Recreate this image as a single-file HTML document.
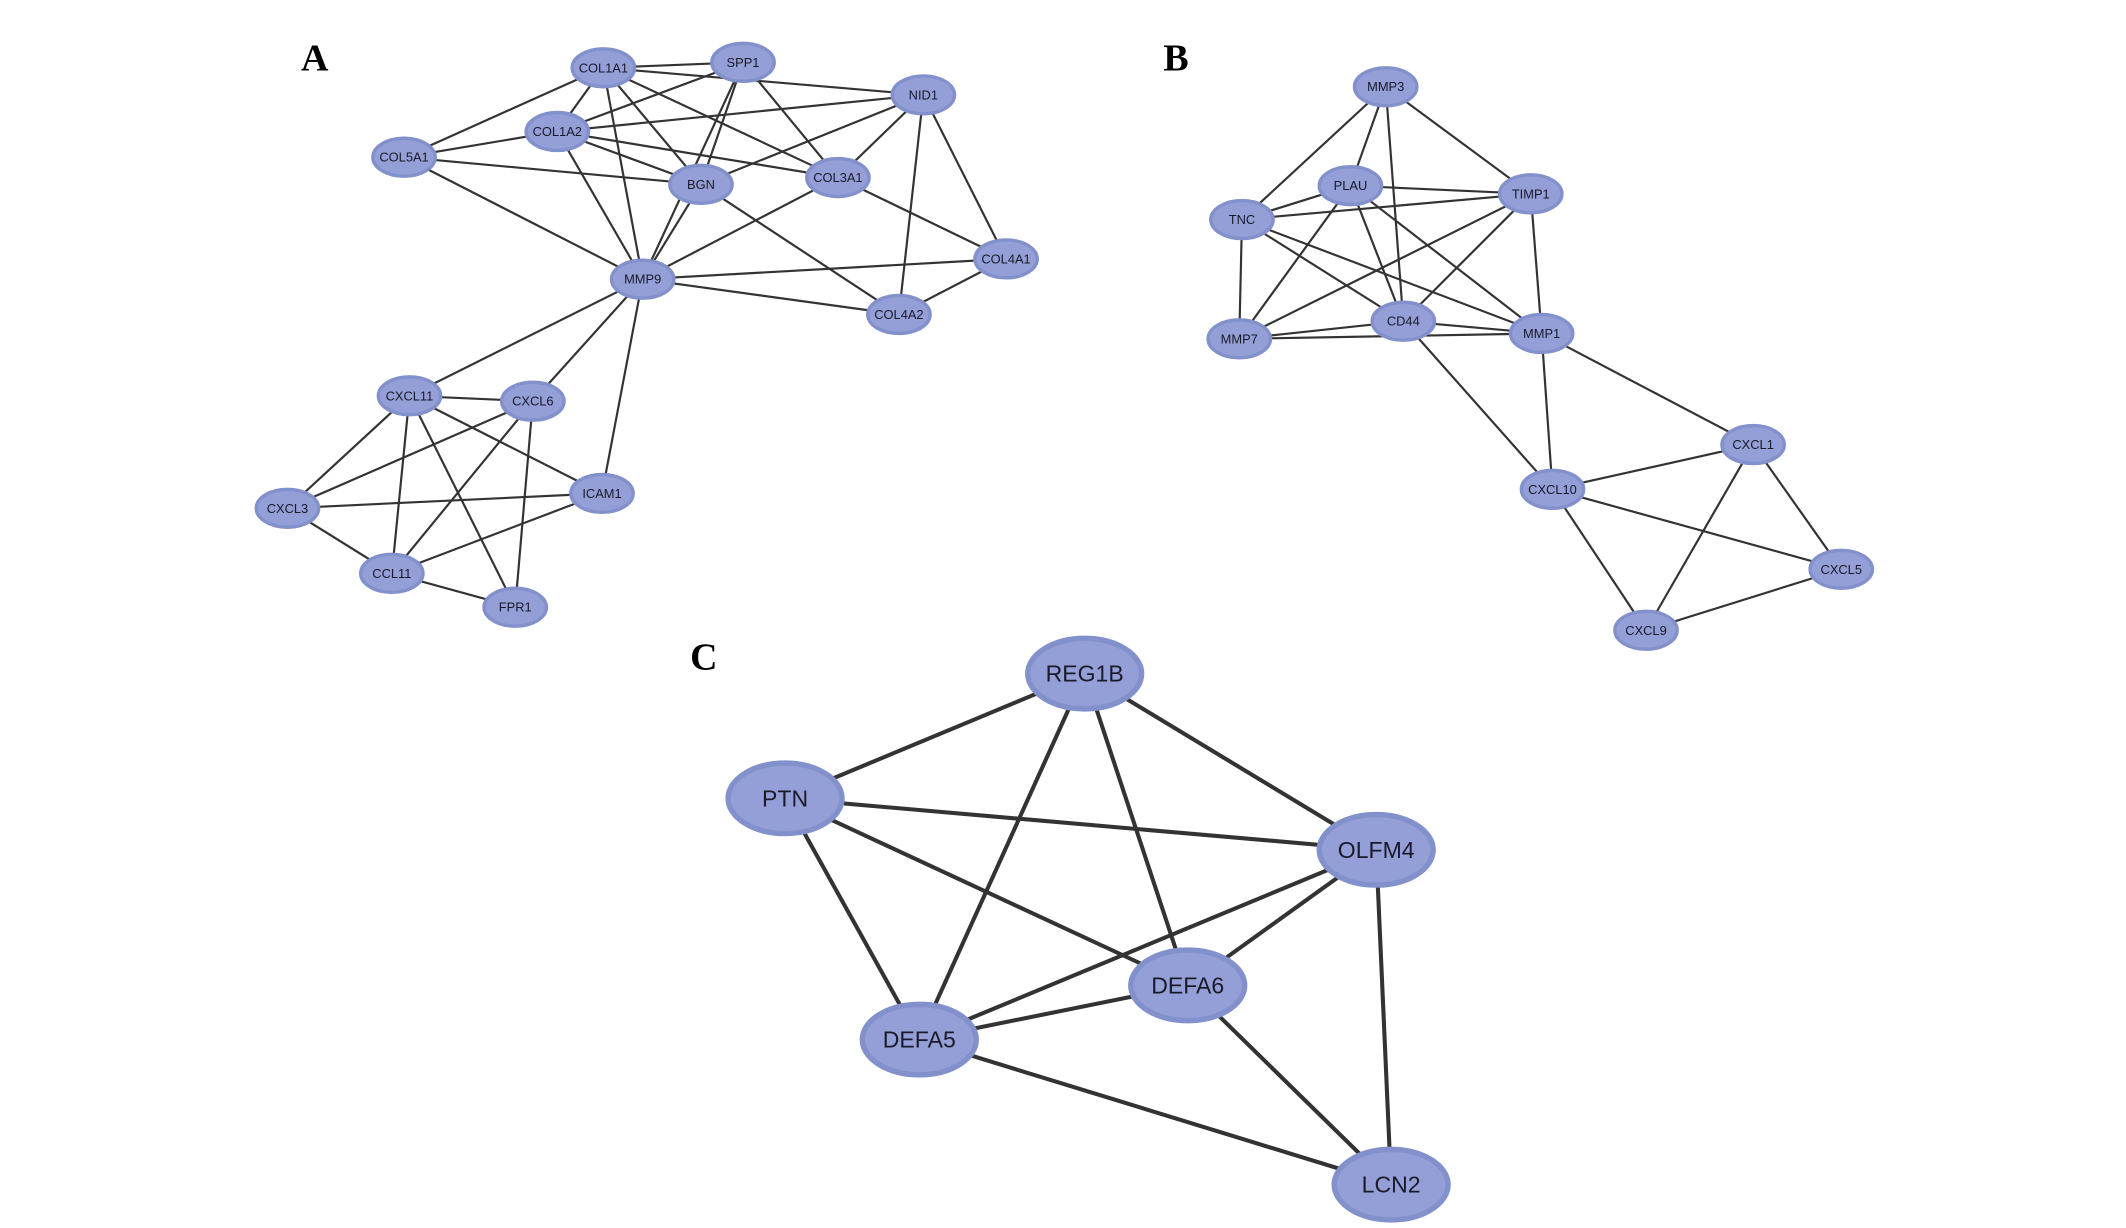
<!DOCTYPE html>
<html><head><meta charset="utf-8"><style>
html,body{margin:0;padding:0;background:#fff;}
svg{display:block;}
text{font-family:"Liberation Sans",sans-serif;fill:#1a1a2a;text-anchor:middle;dominant-baseline:central;}
.lab{font-family:"Liberation Serif",serif;font-weight:bold;font-size:28px;fill:#000;text-anchor:start;}
</style></head><body>
<svg width="2126" height="1228" viewBox="0 0 1568 906" preserveAspectRatio="none" xmlns="http://www.w3.org/2000/svg">
<g id="edges" stroke="#333" stroke-width="1.6" fill="none"></g>
<g id="nodes"></g>
<text class="lab" x="222" y="43">A</text>
<text class="lab" x="858" y="43">B</text>
<text class="lab" x="509" y="485">C</text>
<script>
var N={
COL1A1:[445,50,1],SPP1:[548,46,1],NID1:[681,70,1],COL1A2:[411,97,1],COL5A1:[298,116,1],BGN:[517,136,1],COL3A1:[618,131,1],COL4A1:[742,191,1],MMP9:[474,206,1],COL4A2:[663,232,1],CXCL11:[302,292,1],CXCL6:[393,296,1],ICAM1:[444,364,1],CXCL3:[212,375,1],CCL11:[289,423,1],FPR1:[380,448,1],
MMP3:[1022,64,1],PLAU:[996,137,1],TIMP1:[1129,143,1],TNC:[916,162,1],CD44:[1035,237,1],MMP1:[1137,246,1],MMP7:[914,250,1],CXCL1:[1293,328,1],CXCL10:[1145,361,1],CXCL5:[1358,420,1],CXCL9:[1214,465,1],
REG1B:[800,497,2],PTN:[579,589,2],OLFM4:[1015,627,2],DEFA6:[876,727,2],DEFA5:[678,767,2],LCN2:[1026,874,2]};
var E="COL1A1-SPP1 COL1A1-NID1 COL1A1-COL1A2 COL1A1-COL5A1 COL1A1-BGN COL1A1-COL3A1 COL1A1-MMP9 SPP1-COL1A2 SPP1-BGN SPP1-MMP9 SPP1-COL3A1 COL1A2-NID1 COL1A2-COL5A1 COL1A2-BGN COL1A2-COL3A1 COL1A2-MMP9 COL5A1-BGN COL5A1-MMP9 NID1-BGN NID1-COL3A1 NID1-COL4A1 NID1-COL4A2 BGN-MMP9 BGN-COL4A2 COL3A1-MMP9 COL3A1-COL4A1 MMP9-COL4A1 MMP9-COL4A2 COL4A1-COL4A2 MMP9-CXCL11 MMP9-CXCL6 MMP9-ICAM1 CXCL11-CXCL6 CXCL11-CXCL3 CXCL11-CCL11 CXCL11-FPR1 CXCL11-ICAM1 CXCL6-CXCL3 CXCL6-CCL11 CXCL6-FPR1 CXCL3-ICAM1 CCL11-ICAM1 CXCL3-CCL11 CCL11-FPR1 MMP3-PLAU MMP3-TNC MMP3-TIMP1 MMP3-CD44 PLAU-TIMP1 PLAU-TNC PLAU-MMP7 PLAU-CD44 PLAU-MMP1 TNC-TIMP1 TNC-MMP7 TNC-CD44 TNC-MMP1 TIMP1-MMP7 TIMP1-CD44 TIMP1-MMP1 MMP7-CD44 MMP7-MMP1 CD44-MMP1 CD44-CXCL10 MMP1-CXCL10 MMP1-CXCL1 CXCL10-CXCL1 CXCL10-CXCL5 CXCL10-CXCL9 CXCL1-CXCL9 CXCL1-CXCL5 CXCL9-CXCL5 REG1B-PTN REG1B-OLFM4 REG1B-DEFA5 REG1B-DEFA6 PTN-OLFM4 PTN-DEFA6 PTN-DEFA5 OLFM4-DEFA6 OLFM4-DEFA5 OLFM4-LCN2 DEFA6-DEFA5 DEFA6-LCN2 DEFA5-LCN2".split(" ");
var ns="http://www.w3.org/2000/svg",ge=document.getElementById("edges"),gn=document.getElementById("nodes");
E.forEach(function(e){var p=e.split("-"),a=N[p[0]],b=N[p[1]];var l=document.createElementNS(ns,"line");
l.setAttribute("x1",a[0]);l.setAttribute("y1",a[1]);l.setAttribute("x2",b[0]);l.setAttribute("y2",b[1]);
if(a[2]==2){l.setAttribute("stroke-width","3");}ge.appendChild(l);});
for(var k in N){var n=N[k],big=n[2]==2;var el=document.createElementNS(ns,"ellipse");
el.setAttribute("cx",n[0]);el.setAttribute("cy",n[1]);el.setAttribute("rx",big?42:23);el.setAttribute("ry",big?26:14);
el.setAttribute("fill","#939fd6");el.setAttribute("stroke","#8290cc");el.setAttribute("stroke-width",big?4:2.5);gn.appendChild(el);
var t=document.createElementNS(ns,"text");t.setAttribute("x",n[0]);t.setAttribute("y",n[1]);t.setAttribute("font-size",big?17:9.5);t.textContent=k;gn.appendChild(t);}
</script>
</svg>
</body></html>
